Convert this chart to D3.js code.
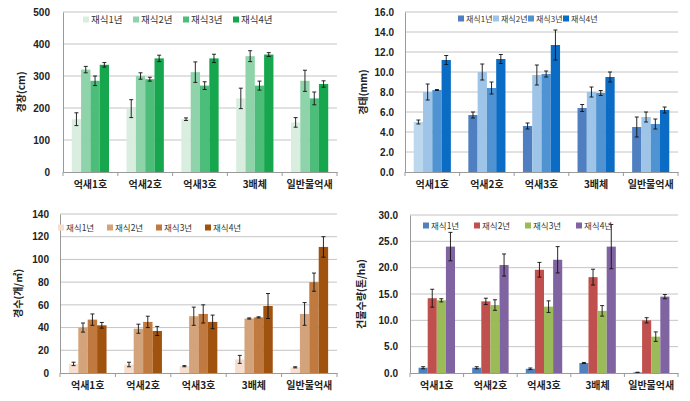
<!DOCTYPE html>
<html>
<head>
<meta charset="utf-8">
<script src="https://cdn.jsdelivr.net/npm/d3@7"></script>
<style>
  body { margin: 0; background: #fff; }
  text { font-family: "Noto Sans CJK KR", "Noto Sans", sans-serif; }
</style>
</head>
<body>
<div id="chart"></div>
<script>
const categories = ["억새1호", "억새2호", "억새3호", "3배체", "일반물억새"];
const seriesNames = ["재식1년", "재식2년", "재식3년", "재식4년"];

// 경장(cm)
const lengthValues = [
  [165, 198, 165, 230, 155],
  [320, 300, 312, 362, 285],
  [285, 290, 270, 270, 230],
  [335, 355, 355, 367, 275]
];
const lengthErrors = [
  [20, 28, 4, 32, 15],
  [10, 10, 32, 17, 33],
  [15, 6, 12, 14, 20],
  [7, 10, 13, 6, 10]
];
const lengthTicks = [0, 100, 200, 300, 400, 500];

// 경태(mm)
const diameterValues = [
  [5.0, 5.7, 4.6, 6.4, 4.5],
  [8.0, 10.0, 9.7, 8.0, 5.5],
  [8.2, 8.4, 9.8, 7.9, 4.8],
  [11.2, 11.3, 12.7, 9.5, 6.2]
];
const diameterErrors = [
  [0.2, 0.3, 0.3, 0.35, 1.0],
  [0.8, 0.8, 1.0, 0.5, 0.5],
  [0.05, 0.6, 0.3, 0.25, 0.5],
  [0.45, 0.45, 1.5, 0.5, 0.3]
];
const diameterTicks = [0, 2, 4, 6, 8, 10, 12, 14, 16];

// 경수(개/㎡)
const countValues = [
  [8, 7.5, 6, 12, 5],
  [40, 39, 50, 48, 52],
  [47, 45, 52, 49, 80],
  [42, 37, 45, 59, 111]
];
const countErrors = [
  [1.5, 2, 0.5, 3.5, 0.5],
  [4, 4, 8, 0.5, 10],
  [5, 5, 8, 0.5, 8],
  [2.5, 4, 6, 11, 9]
];
const countTicks = [0, 20, 40, 60, 80, 100, 120, 140];

// 건물수량(톤/ha)
const yieldValues = [
  [1.0, 1.0, 0.8, 1.9, 0.1],
  [14.2, 13.6, 19.6, 18.2, 10.0],
  [13.8, 12.9, 12.6, 11.8, 6.9],
  [24.0, 20.5, 21.5, 24.0, 14.5]
];
const yieldErrors = [
  [0.2, 0.2, 0.15, 0.1, 0.05],
  [1.7, 0.6, 1.4, 1.5, 0.5],
  [0.3, 1.0, 1.1, 1.0, 0.9],
  [2.7, 2.1, 2.5, 4.2, 0.4]
];
const yieldTicks = [0, 5, 10, 15, 20, 25, 30];

const width = 690;
const height = 401;

const svg = d3.select("#chart").append("svg")
  .attr("width", width)
  .attr("height", height);

const panels = [
  {
    values: lengthValues, errors: lengthErrors, ticks: lengthTicks, fmt: d3.format("d"),
    title: "경장(cm)", colors: ["#d9eedf", "#8ed3a9", "#4dbd7a", "#16a64d"],
    left: 63, right: 337, top: 12, bottom: 172, titleX: 25,
    legendX: 83, legendY: 20, legendStep: 50, legendFont: 9.5, tickRight: 50
  },
  {
    values: diameterValues, errors: diameterErrors, ticks: diameterTicks, fmt: d3.format(".1f"),
    title: "경태(mm)", colors: ["#4f7fc0", "#9ec5e8", "#4f93d2", "#0a6cc4"],
    left: 405, right: 678, top: 12, bottom: 172, titleX: 367,
    legendX: 458, legendY: 19, legendStep: 35, legendFont: 8, tickRight: 394,
    override: { s: 0, c: 0, color: "#bcd8ef" }
  },
  {
    values: countValues, errors: countErrors, ticks: countTicks, fmt: d3.format("d"),
    title: "경수(개/㎡)", colors: ["#f6dfcf", "#d3a47b", "#c07a3f", "#a0520f"],
    left: 60, right: 337, top: 214, bottom: 373, titleX: 22,
    legendX: 58, legendY: 228, legendStep: 49, legendFont: 8.5, tickRight: 49
  },
  {
    values: yieldValues, errors: yieldErrors, ticks: yieldTicks, fmt: d3.format(".1f"),
    title: "건물수량(톤/ha)", colors: ["#4f81bd", "#c0504d", "#9bbb59", "#8064a2"],
    left: 410, right: 678, top: 215, bottom: 373, titleX: 365,
    legendX: 423, legendY: 226, legendStep: 51, legendFont: 8.5, tickRight: 398
  }
];

panels.forEach(drawPanel);

function drawPanel(p) {
  const g = svg.append("g");

  const x = d3.scaleBand()
    .domain(categories)
    .range([p.left, p.right])
    .padding(0);
  const pad = x.bandwidth() * 0.16;
  const xs = d3.scaleBand()
    .domain(d3.range(seriesNames.length))
    .range([pad, x.bandwidth() - pad]);

  const y = d3.scaleLinear()
    .domain([0, d3.max(p.ticks)])
    .range([p.bottom, p.top]);

  // grid lines
  g.append("g")
    .selectAll("line")
    .data(p.ticks.slice(1))
    .join("line")
    .attr("x1", p.left).attr("x2", p.right)
    .attr("y1", d => y(d)).attr("y2", d => y(d))
    .attr("stroke", "#c4c4c4")
    .attr("stroke-width", 1);

  // left axis
  g.append("g")
    .attr("transform", `translate(${p.left},0)`)
    .call(d3.axisLeft(y).tickValues(p.ticks).tickFormat(p.fmt).tickSize(0).tickPadding(p.left - p.tickRight))
    .call(a => a.select(".domain").attr("stroke", "#9a9a9a"))
    .call(a => a.selectAll("text")
      .attr("fill", "#222")
      .style("font-size", "10px")
      .style("font-weight", "bold")
      .style("font-family", "'Liberation Sans', Arial, sans-serif"));

  // bars
  p.values.forEach((vals, s) => {
    g.append("g")
      .selectAll("rect")
      .data(vals)
      .join("rect")
      .attr("x", (d, c) => x(categories[c]) + xs(s))
      .attr("y", d => y(d))
      .attr("width", xs.bandwidth())
      .attr("height", d => y(0) - y(d))
      .attr("fill", (d, c) => (p.override && p.override.s === s && p.override.c === c) ? p.override.color : p.colors[s]);
  });

  // error bars
  p.values.forEach((vals, s) => {
    const eg = g.append("g").attr("stroke", "#111").attr("stroke-width", 0.9);
    vals.forEach((v, c) => {
      const e = p.errors[s][c];
      const cx = x(categories[c]) + xs(s) + xs.bandwidth() / 2;
      eg.append("line").attr("x1", cx).attr("x2", cx).attr("y1", y(v - e)).attr("y2", y(v + e));
      eg.append("line").attr("x1", cx - 2).attr("x2", cx + 2).attr("y1", y(v - e)).attr("y2", y(v - e));
      eg.append("line").attr("x1", cx - 2).attr("x2", cx + 2).attr("y1", y(v + e)).attr("y2", y(v + e));
    });
  });

  // bottom axis
  g.append("g")
    .attr("transform", `translate(0,${p.bottom})`)
    .call(d3.axisBottom(x).tickSize(0).tickPadding(9))
    .call(a => a.select(".domain").attr("stroke", "#9a9a9a"))
    .call(a => a.selectAll("text")
      .attr("fill", "#222")
      .style("font-size", "10px")
      .style("font-weight", "bold"));
  g.append("g")
    .selectAll("line")
    .data(d3.range(categories.length + 1))
    .join("line")
    .attr("x1", i => p.left + i * x.bandwidth())
    .attr("x2", i => p.left + i * x.bandwidth())
    .attr("y1", p.bottom).attr("y2", p.bottom + 4)
    .attr("stroke", "#9a9a9a");

  // y title
  g.append("text")
    .attr("transform", `translate(${p.titleX},${(p.top + p.bottom) / 2}) rotate(-90)`)
    .attr("text-anchor", "middle")
    .attr("fill", "#222")
    .style("font-size", "10px")
    .style("font-weight", "bold")
    .text(p.title);

  // legend
  const lg = g.append("g");
  seriesNames.forEach((name, s) => {
    const lx = p.legendX + s * p.legendStep;
    lg.append("rect")
      .attr("x", lx).attr("y", p.legendY - 3.5)
      .attr("width", 6).attr("height", 6)
      .attr("fill", p.colors[s]);
    lg.append("text")
      .attr("x", lx + 8).attr("y", p.legendY)
      .attr("dy", "0.35em")
      .attr("fill", "#333")
      .style("font-size", p.legendFont + "px")
      .text(name);
  });
}
</script>
</body>
</html>
